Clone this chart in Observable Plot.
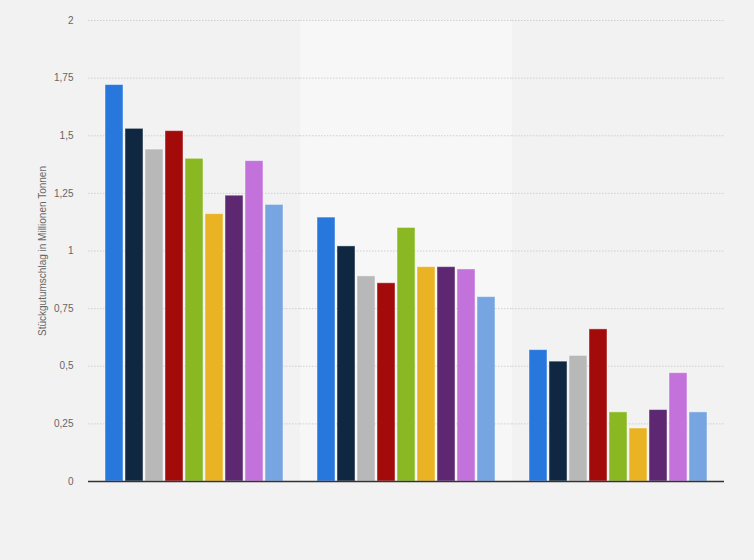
<!DOCTYPE html>
<html>
<head>
<meta charset="utf-8">
<script src="https://cdn.jsdelivr.net/npm/d3@7"></script>
<script src="https://cdn.jsdelivr.net/npm/@observablehq/plot@0.6"></script>
<style>
  html, body { margin: 0; padding: 0; background: #f2f2f2; }
  #chart svg { display: block; background: #f2f2f2; }
</style>
</head>
<body>
<div id="chart"></div>
<script>
const groups = ["Gruppe 1", "Gruppe 2", "Gruppe 3"];
const series = ["Serie 1", "Serie 2", "Serie 3", "Serie 4", "Serie 5", "Serie 6", "Serie 7", "Serie 8", "Serie 9"];
const values1 = [1.72, 1.53, 1.44, 1.52, 1.40, 1.16, 1.24, 1.39, 1.20];
const values2 = [1.145, 1.02, 0.89, 0.86, 1.10, 0.93, 0.93, 0.92, 0.80];
const values3 = [0.57, 0.52, 0.545, 0.66, 0.30, 0.23, 0.31, 0.47, 0.30];
const colors = ["#2877dd", "#0f2740", "#b8b8b8", "#a30a0a", "#89b823", "#e9b323", "#5d2871", "#c372db", "#76a5e1"];
const yTicks = [0, 0.25, 0.5, 0.75, 1, 1.25, 1.5, 1.75, 2];
const yLabel = "Stückgutumschlag in Millionen Tonnen";

const allValues = [values1, values2, values3];
const data = groups.flatMap((g, gi) => series.map((s, si) => ({group: g, series: s, value: allValues[gi][si]})));

const chart = Plot.plot({
  width: 754,
  height: 560,
  marginTop: 20,
  marginBottom: 79,
  marginLeft: 87,
  marginRight: 29,
  style: {background: "#f2f2f2", fontFamily: "Liberation Sans, Arial, sans-serif"},
  fx: {domain: groups, padding: 0, axis: null},
  x: {domain: series, paddingInner: 0.1, paddingOuter: 0.75, axis: null},
  y: {domain: [0, 2], axis: null},
  color: {domain: series, range: colors},
  marks: [
    Plot.barY([{group: groups[1]}], {fx: "group", y1: 0, y2: 2, fill: "#f7f7f7"}),
    Plot.gridY(yTicks, {stroke: "#cfcfcf", strokeOpacity: 1, strokeDasharray: "1.5,1.5"}),
    Plot.axisY(yTicks, {
      tickSize: 0,
      tickPadding: 15,
      fontSize: 10,
      color: "#666",
      tickFormat: d => String(d).replace(".", ","),
      label: yLabel,
      labelAnchor: "center",
      labelArrow: "none",
      labelOffset: 50
    }),
    Plot.barY(data, {fx: "group", x: "series", y: "value", fill: "series", stroke: "white", strokeOpacity: 0.45, strokeWidth: 1}),
    Plot.ruleY([0], {stroke: "#333", strokeWidth: 1.5})
  ]
});
document.getElementById("chart").appendChild(chart);
</script>
</body>
</html>
